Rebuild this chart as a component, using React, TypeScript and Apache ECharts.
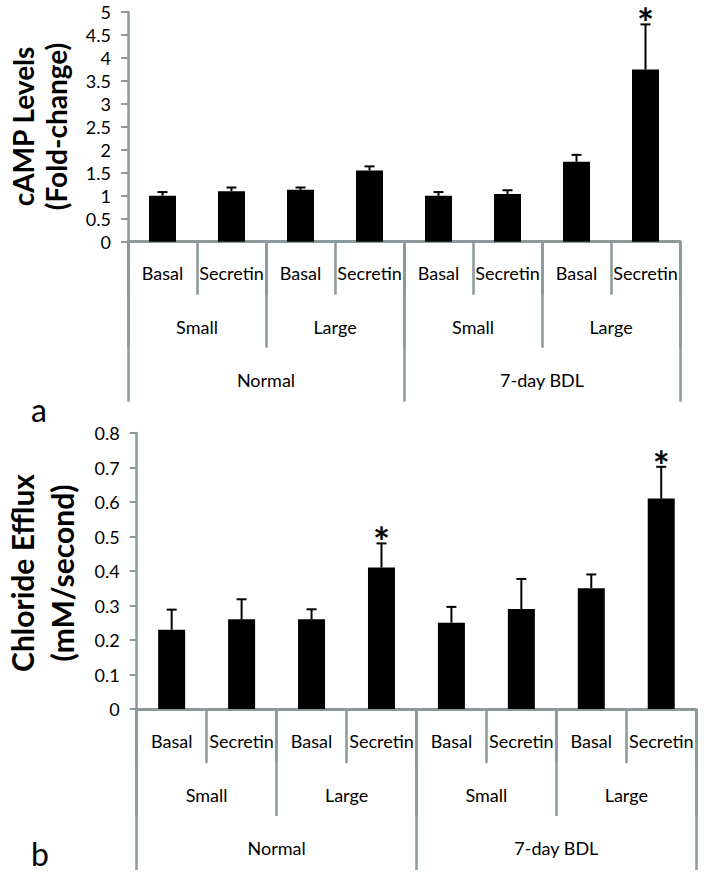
import React, { useEffect, useRef } from "react";
import * as echarts from "echarts";

const treatments = ["Basal", "Secretin", "Basal", "Secretin", "Basal", "Secretin", "Basal", "Secretin"];
const cellSizes = ["Small", "Large", "Small", "Large"];
const conditions = ["Normal", "7-day BDL"];

const campValues = [1.0, 1.1, 1.13, 1.55, 1.0, 1.04, 1.74, 3.75];
const campErrors = [0.08, 0.08, 0.05, 0.09, 0.08, 0.08, 0.15, 0.98];
const campSig = [0, 0, 0, 0, 0, 0, 0, 1];

const clValues = [0.23, 0.26, 0.26, 0.41, 0.25, 0.29, 0.35, 0.61];
const clErrors = [0.058, 0.058, 0.029, 0.07, 0.046, 0.087, 0.04, 0.092];
const clSig = [0, 0, 0, 1, 0, 0, 0, 1];

const GRAY = "#8a9999";
const FONT = "Lato";
const FS = 18;

function xAxes(gridIndex: number, m: number[]) {
  const common = {
    type: "category" as const,
    gridIndex,
    position: "bottom" as const,
    boundaryGap: true,
    axisLine: { show: true, lineStyle: { color: GRAY, width: 2.5 } },
    splitLine: { show: false },
  };
  return [
    {
      ...common,
      data: treatments,
      axisTick: { show: true, interval: 0, length: m[3], lineStyle: { color: GRAY, width: 2.5 } },
      axisLabel: { interval: 0, margin: m[0], fontSize: FS, color: "#000", fontFamily: FONT },
    },
    {
      ...common,
      data: cellSizes,
      axisTick: { show: true, interval: 0, length: m[4], lineStyle: { color: GRAY, width: 2.5 } },
      axisLabel: { interval: 0, margin: m[1], fontSize: FS, color: "#000", fontFamily: FONT },
    },
    {
      ...common,
      data: conditions,
      axisTick: { show: true, interval: 0, length: m[5], lineStyle: { color: GRAY, width: 2.5 } },
      axisLabel: { interval: 0, margin: m[2], fontSize: FS, color: "#000", fontFamily: FONT },
    },
  ];
}

function yAxis(gridIndex: number, max: number, interval: number) {
  return {
    type: "value" as const,
    gridIndex,
    min: 0,
    max,
    interval,
    axisLine: { show: true, lineStyle: { color: GRAY, width: 2.5 } },
    axisTick: { show: true, length: 7, lineStyle: { color: GRAY, width: 2 } },
    splitLine: { show: false },
    axisLabel: { margin: 17, fontSize: FS, color: "#000", fontFamily: FONT },
  };
}

function errSeries(xAxisIndex: number, yAxisIndex: number, vals: number[], errs: number[], sig: number[]) {
  return {
    type: "custom" as const,
    xAxisIndex,
    yAxisIndex,
    data: vals.map((v, i) => [i, v, errs[i], sig[i]]),
    encode: { x: 0, y: 1 },
    z: 5,
    renderItem: (params: any, api: any) => {
      const i = api.value(0);
      const v = api.value(1);
      const e = api.value(2);
      const s = api.value(3);
      const b = api.coord([i, v]);
      const t = api.coord([i, v + e]);
      const children: any[] = [
        { type: "line", shape: { x1: b[0], y1: b[1], x2: t[0], y2: t[1] }, style: { stroke: "#000", lineWidth: 2 } },
        { type: "line", shape: { x1: t[0] - 5, y1: t[1], x2: t[0] + 5, y2: t[1] }, style: { stroke: "#000", lineWidth: 2 } },
      ];
      if (s) {
        children.push({
          type: "text",
          x: t[0],
          y: t[1] - 1,
          style: { text: "*", fontSize: 40, fontWeight: "bold", fontFamily: FONT, fill: "#000", align: "center", verticalAlign: "middle" },
        });
      }
      return { type: "group", children };
    },
  };
}

export default function App() {
  const ref = useRef<HTMLDivElement>(null);
  useEffect(() => {
    if (!ref.current) return;
    const chart = echarts.init(ref.current, undefined, { renderer: "svg" });
    chart.setOption({
      animation: false,
      backgroundColor: "#fff",
      grid: [
        { left: 128, top: 12, width: 552, height: 229.7 },
        { left: 136.7, top: 433, width: 559.5, height: 276 },
      ],
      xAxis: [...xAxes(0, [22, 76, 129, 53, 106, 160]), ...xAxes(1, [23, 77, 130, 54, 107, 161])],
      yAxis: [yAxis(0, 5, 0.5), yAxis(1, 0.8, 0.1)],
      series: [
        { type: "bar", xAxisIndex: 0, yAxisIndex: 0, data: campValues, barWidth: 27, itemStyle: { color: "#000" } },
        errSeries(0, 0, campValues, campErrors, campSig),
        { type: "bar", xAxisIndex: 3, yAxisIndex: 1, data: clValues, barWidth: 27, itemStyle: { color: "#000" } },
        errSeries(3, 1, clValues, clErrors, clSig),
      ],
      graphic: [
        {
          type: "text",
          x: 39,
          y: 126.5,
          rotation: Math.PI / 2,
          style: { text: "cAMP Levels\n(Fold-change)", fontSize: 28, fontWeight: "bold", fontFamily: FONT, lineHeight: 33, fill: "#000", align: "center", verticalAlign: "middle" },
        },
        {
          type: "text",
          x: 42,
          y: 573,
          rotation: Math.PI / 2,
          style: { text: "Chloride Efflux\n(mM/second)", fontSize: 30, fontWeight: "bold", fontFamily: FONT, lineHeight: 40, fill: "#000", align: "center", verticalAlign: "middle" },
        },
        { type: "text", x: 39, y: 393, style: { text: "a", fontSize: 32, fontFamily: FONT, fill: "#000", align: "center", verticalAlign: "alphabetic" } },
        { type: "text", x: 40, y: 837, style: { text: "b", fontSize: 32, fontFamily: FONT, fill: "#000", align: "center", verticalAlign: "alphabetic" } },
      ],
    });
    return () => chart.dispose();
  }, []);
  return <div ref={ref} style={{ position: "fixed", left: 0, top: 0, width: 704, height: 874 }} />;
}
